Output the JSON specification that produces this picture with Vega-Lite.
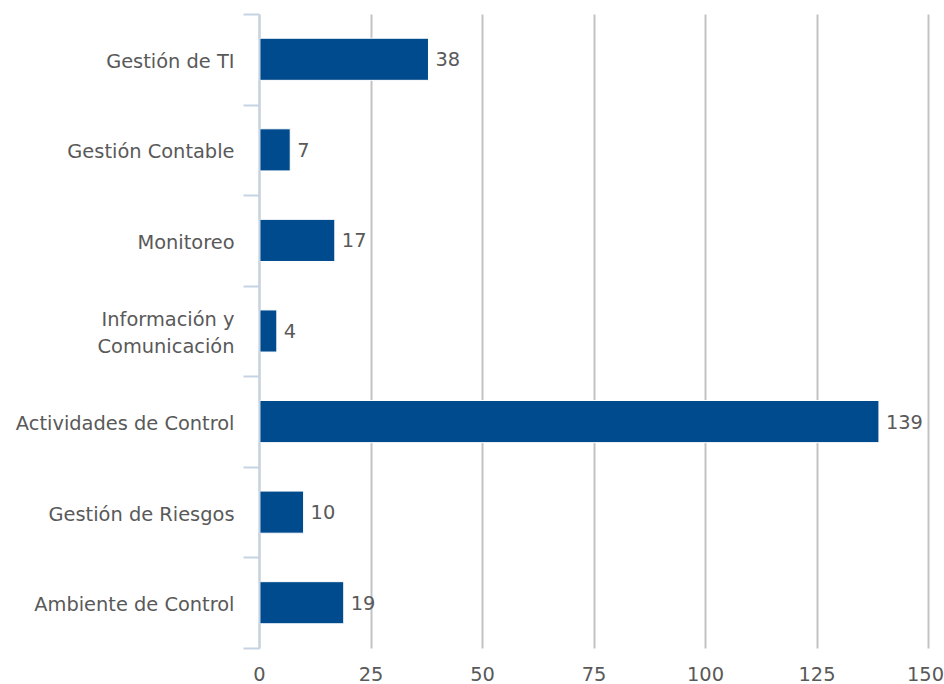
{
  "$schema": "https://vega.github.io/schema/vega-lite/v6.json",
  "autosize": "none",
  "width": 669,
  "height": 634,
  "padding": {"left": 259, "top": 14, "right": 16, "bottom": 36},
  "background": "white",
  "config": {
    "view": {"stroke": null},
    "font": "DejaVu Sans"
  },
  "data": {
    "values": [
      {"categoria": "Gestión de TI", "valor": 38},
      {"categoria": "Gestión Contable", "valor": 7},
      {"categoria": "Monitoreo", "valor": 17},
      {"categoria": "Información y Comunicación", "valor": 4},
      {"categoria": "Actividades de Control", "valor": 139},
      {"categoria": "Gestión de Riesgos", "valor": 10},
      {"categoria": "Ambiente de Control", "valor": 19}
    ]
  },
  "encoding": {
    "y": {
      "field": "categoria",
      "type": "nominal",
      "sort": null,
      "scale": {"paddingInner": 0, "paddingOuter": 0},
      "axis": {
        "title": null,
        "domainColor": "#c6d3e3",
        "domainWidth": 2,
        "tickColor": "#c6d3e3",
        "tickWidth": 2,
        "tickSize": 16,
        "tickBand": "extent",
        "labelPadding": 9,
        "labelFontSize": 19.4,
        "labelColor": "#595959",
        "labelFont": "DejaVu Sans",
        "labelLineHeight": 27,
        "labelLimit": 300,
        "labelOffset": {"condition": {"test": "datum.value == 'Información y Comunicación'", "value": -12}, "value": 2},
        "labelExpr": "datum.value == 'Información y Comunicación' ? ['Información y', 'Comunicación'] : datum.value",
        "zindex": 1
      }
    },
    "x": {
      "field": "valor",
      "type": "quantitative",
      "scale": {"domain": [0, 150], "nice": false},
      "axis": {
        "title": null,
        "values": [0, 25, 50, 75, 100, 125, 150],
        "domain": false,
        "ticks": false,
        "grid": true,
        "gridColor": "#c3c3c3",
        "gridWidth": 2,
        "labelFlush": false,
        "labelPadding": 17,
        "labelOffset": {"condition": {"test": "datum.value == 150", "value": -3}, "value": 0},
        "labelFontSize": 19.4,
        "labelColor": "#595959",
        "labelFont": "DejaVu Sans",
        "zindex": 0
      }
    }
  },
  "layer": [
    {
      "mark": {"type": "bar", "color": "#004b8d", "stroke": "white", "strokeWidth": 1, "height": {"band": 0.465}}
    },
    {
      "mark": {"type": "text", "align": "left", "baseline": "middle", "dx": 7, "dy": 1, "fontSize": 19.4, "color": "#595959", "font": "DejaVu Sans"},
      "encoding": {"text": {"field": "valor", "type": "quantitative"}}
    }
  ]
}
